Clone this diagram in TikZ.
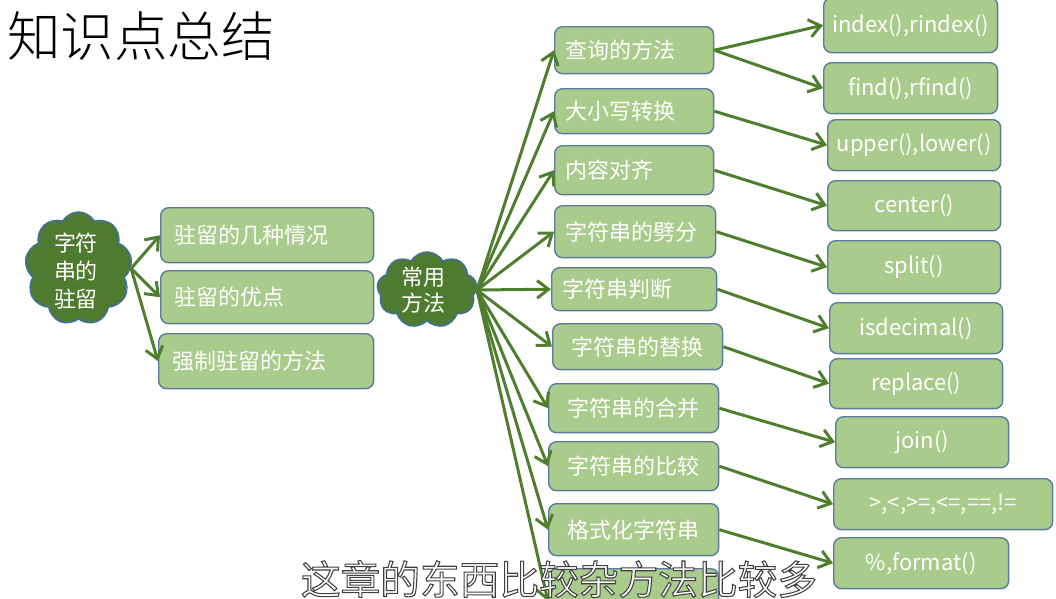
\documentclass[tikz,border=0pt]{standalone}
\usepackage{fontspec}
\setmainfont{Noto Sans CJK SC}
\newfontfamily\titlefont{Noto Sans CJK SC Light}
\usetikzlibrary{shapes.symbols,arrows.meta}
\definecolor{boxfill}{HTML}{A9CB8B}
\definecolor{boxline}{HTML}{5B7BA0}
\definecolor{cloudfill}{HTML}{4E7B2F}
\definecolor{cloudline}{HTML}{41719C}
\definecolor{arrowc}{HTML}{4F7F2E}
\newcommand\outlinetext[1]{{\color{white}\special{pdf:code 2 Tr 0.25 G 0.6 w}#1\special{pdf:code 0 Tr 0 G}}}
\begin{document}
\begin{tikzpicture}[x=0.02cm,y=-0.02cm,
  gbox/.style={draw=boxline,line width=0.8pt,fill=boxfill,rounded corners=4.5pt,
    anchor=north west,text=white,font=\fontsize{12.5}{14}\selectfont,inner sep=0pt},
  lbox/.style={gbox,align=left,text width=#1,inner xsep=8pt},
  cbox/.style={gbox,align=center},
  gcloud/.style={cloud,cloud puffs=9,cloud puff arc=120,aspect=1,draw=cloudline,
    line width=0.9pt,fill=cloudfill,inner sep=0pt},
  ctext/.style={text=white,align=center,inner sep=0pt,font=\fontsize{12.5}{#1}\selectfont},
  arr/.style={draw=arrowc,line width=1.7pt,-{Straight Barb[length=6.5pt,width=10pt]}}]
\useasboundingbox (0,0) rectangle (1056,599);
\clip (0,0) rectangle (1056,599);

\node[anchor=west,font=\titlefont\fontsize{30.5}{33}\selectfont] (title) at (1,36) {知识点总结};

% left cloud and boxes
\node[gcloud,minimum width=2.14cm,minimum height=2.26cm] (lc) at (78.5,268.5) {};
\node[ctext=16] (lct) at (76,271) {字符\\串的\\驻留};
\node[lbox=4.26cm-16pt,minimum height=1.10cm] (l1) at (160,207) {驻留的几种情况};
\node[lbox=4.26cm-16pt,minimum height=1.06cm] (l2) at (160,270) {驻留的优点};
\node[lbox=4.30cm-16pt,minimum height=1.10cm] (l3) at (158,333) {强制驻留的方法};

% middle cloud
\node[gcloud,minimum width=2.0cm,minimum height=1.52cm] (mc) at (427,290) {};
\node[ctext=15] (mct) at (423,290) {常用\\方法};

% middle boxes
\node[lbox=3.32cm-16pt,minimum height=0.94cm,inner xsep=6pt] (b1) at (554,26) {查询的方法};
\node[lbox=3.32cm-16pt,minimum height=0.90cm,inner xsep=6pt] (b2) at (554,88) {大小写转换};
\node[lbox=3.32cm-16pt,minimum height=0.98cm,inner xsep=6pt] (b3) at (554,145) {内容对齐};
\node[lbox=3.36cm-16pt,minimum height=1.04cm,inner xsep=6pt] (b4) at (554,205) {字符串的劈分};
\node[lbox=3.44cm-16pt,minimum height=0.86cm,inner xsep=6pt] (b5) at (551,267) {字符串判断};
\node[cbox,minimum width=3.40cm,minimum height=0.92cm] (b6) at (552,323) {字符串的替换};
\node[cbox,minimum width=3.40cm,minimum height=0.98cm] (b7) at (548,383) {字符串的合并};
\node[cbox,minimum width=3.40cm,minimum height=0.98cm] (b8) at (548,441) {字符串的比较};
\node[cbox,minimum width=3.40cm,minimum height=1.04cm] (b9) at (548,503) {格式化字符串};
\node[cbox,minimum width=3.40cm,minimum height=1.14cm] (b10) at (548,568) {};

% right boxes
\node[cbox,minimum width=3.48cm,minimum height=1.10cm] (r1) at (823,-3) {index(),rindex()};
\node[cbox,minimum width=3.48cm,minimum height=1.02cm] (r2) at (823,62) {find(),rfind()};
\node[cbox,minimum width=3.46cm,minimum height=1.02cm] (r3) at (827,119) {upper(),lower()};
\node[cbox,minimum width=3.46cm,minimum height=1.00cm] (r4) at (827,180) {center()};
\node[cbox,minimum width=3.46cm,minimum height=1.06cm] (r5) at (827,240) {split()};
\node[cbox,minimum width=3.46cm,minimum height=1.02cm] (r6) at (829,302) {isdecimal()};
\node[cbox,minimum width=3.46cm,minimum height=1.00cm] (r7) at (829,358) {replace()};
\node[cbox,minimum width=3.46cm,minimum height=1.02cm] (r8) at (835,416) {join()};
\node[cbox,minimum width=4.38cm,minimum height=1.02cm] (r9) at (833,478) {>,<,>=,<=,==,!=};
\node[cbox,minimum width=3.50cm,minimum height=1.02cm] (r10) at (833,537) {\%,format()};

% arrows left
\foreach \t in {l1,l2,l3} \draw[arr] (lc.east) -- (\t.west);
% arrows middle
\foreach \t in {b1,b2,b3,b4,b5,b6,b7,b8,b9} \draw[arr] (mc.east) -- (\t.west);
\draw[arr] (mc.east) -- ([yshift=-0.08cm]b10.west);
% arrows right
\draw[arr] (b1.east) -- (r1.west);
\draw[arr] (b1.east) -- (r2.west);
\draw[arr] (b2.east) -- (r3.west);
\draw[arr] (b3.east) -- (r4.west);
\draw[arr] (b4.east) -- (r5.west);
\draw[arr] (b5.east) -- (r6.west);
\draw[arr] (b6.east) -- (r7.west);
\draw[arr] (b7.east) -- (r8.west);
\draw[arr] (b8.east) -- (r9.west);
\draw[arr] (b9.east) -- (r10.west);

% subtitle
\node[font=\fontsize{22.6}{24}\selectfont,inner sep=0pt] (sub) at (559,579) {\outlinetext{这章的东西比较杂方法比较多}};
\end{tikzpicture}
\end{document}
